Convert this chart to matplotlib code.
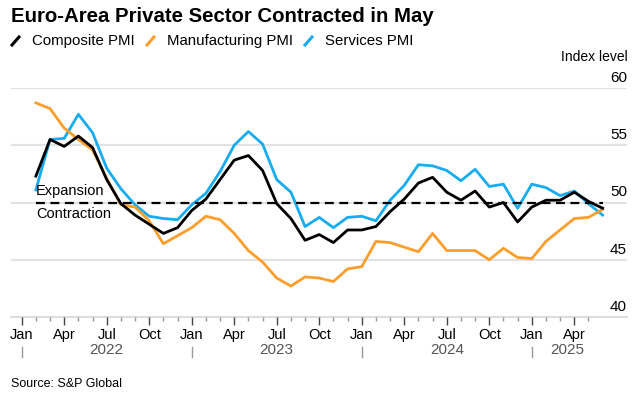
import matplotlib
matplotlib.use("Agg")
import matplotlib.pyplot as plt
import matplotlib.transforms as mtransforms
import numpy as np
from matplotlib.lines import Line2D

plt.rcParams["font.family"] = ["Liberation Sans", "DejaVu Sans"]

# monthly readings, Jan 2022 .. May 2025
composite = [52.3, 55.5, 54.9, 55.8, 54.8, 52.0, 49.9, 48.9, 48.1, 47.3, 47.8, 49.3,
             50.3, 52.0, 53.7, 54.1, 52.8, 49.9, 48.6, 46.7, 47.2, 46.5, 47.6, 47.6,
             47.9, 49.2, 50.3, 51.7, 52.2, 50.9, 50.2, 51.0, 49.6, 50.0, 48.3, 49.6,
             50.2, 50.2, 50.9, 50.1, 49.5]
manufacturing = [58.7, 58.2, 56.5, 55.5, 54.6, 52.1, 49.8, 49.6, 48.4, 46.4, 47.1, 47.8,
                 48.8, 48.5, 47.3, 45.8, 44.8, 43.4, 42.7, 43.5, 43.4, 43.1, 44.2, 44.4,
                 46.6, 46.5, 46.1, 45.7, 47.3, 45.8, 45.8, 45.8, 45.0, 46.0, 45.2, 45.1,
                 46.6, 47.6, 48.6, 48.7, 49.4]
services = [51.1, 55.5, 55.6, 57.7, 56.1, 53.0, 51.2, 49.8, 48.8, 48.6, 48.5, 49.8,
            50.8, 52.7, 55.0, 56.2, 55.1, 52.0, 50.9, 47.9, 48.7, 47.8, 48.7, 48.8,
            48.4, 50.2, 51.5, 53.3, 53.2, 52.8, 51.9, 52.9, 51.4, 51.6, 49.5, 51.6,
            51.3, 50.6, 51.0, 49.9, 48.9]
series_names = ["Composite PMI", "Manufacturing PMI", "Services PMI"]
series_colors = ["#000000", "#fb9e2c", "#17acef"]
month_labels = ["Jan", "Apr", "Jul", "Oct"]
years = ["2022", "2023", "2024", "2025"]
y_ticks = [40, 45, 50, 55, 60]

W, H = 639, 398
fig = plt.figure(figsize=(W / 100, H / 100), dpi=100)
# axes box in pixel terms: x 11..627, y 88..317
ax = fig.add_axes([11 / W, (H - 317) / H, (627 - 11) / W, (317 - 88) / H])

# month k (0 = Jan 2022) is a tick; each month's value is plotted at the end of it
x = np.arange(1, len(composite) + 1)
ax.plot(x, services, color=series_colors[2], lw=2, zorder=3)
ax.plot(x, manufacturing, color=series_colors[1], lw=2, zorder=3)
ax.plot(x, composite, color=series_colors[0], lw=2, zorder=4)
ax.plot([x[0], x[-1]], [50, 50], color="black", lw=1.6, ls=(0, (4, 2.5)), zorder=5)

ax.text(x[0], 50.4, "Expansion", fontsize=10.5, ha="left", va="bottom", zorder=6)
ax.text(x[0], 49.6, "Contraction", fontsize=10.5, ha="left", va="top", zorder=6)

ax.set_xlim(-0.755, 42.72)
ax.set_ylim(40, 60)
for sp in ["top", "right", "left"]:
    ax.spines[sp].set_visible(False)
ax.spines["bottom"].set_color("#dddddd")
ax.spines["bottom"].set_linewidth(1.5)
ax.spines["bottom"].set_zorder(1)

for v in y_ticks[1:]:
    ax.axhline(v, color="#e2e2e2", lw=1.5, zorder=1)
ax.yaxis.set_visible(False)

# value labels sit just above their gridline, right-aligned at the plot edge
lift = mtransforms.offset_copy(ax.get_yaxis_transform(), fig=fig, y=3, units="dots")
for v in y_ticks:
    ax.text(1.0, v, str(v), transform=lift, fontsize=11, ha="right", va="bottom")

major = np.arange(0, 40, 3)
minor = np.arange(0, 41)
ax.set_xticks(major)
ax.set_xticklabels([month_labels[(k // 3) % 4] for k in major], fontsize=10.5)
ax.set_xticks(minor, minor=True)
ax.tick_params(axis="x", which="major", length=6, width=1, color="#444444", pad=2)
ax.tick_params(axis="x", which="minor", length=3, width=1, color="#999999")

# year row with separators
xt = ax.get_xaxis_transform()
for i, yr in enumerate(years):
    start = 12 * i
    end = min(12 * (i + 1), 41)
    ax.text((start + end) / 2, -0.145, yr, transform=xt,
            fontsize=11, color="#555555", ha="center", va="center")
    ax.plot([start, start], [-0.13, -0.175], transform=xt,
            color="#999999", lw=1, clip_on=False)

fig.text(11 / W, 1 - 17 / H, "Euro-Area Private Sector Contracted in May", fontsize=14.7,
         fontweight="bold", ha="left", va="center")

# legend row
lx = [12, 147, 305]
for xs, name, c in zip(lx, series_names, series_colors):
    fig.add_artist(Line2D([xs / W, (xs + 7) / W], [1 - 45 / H, 1 - 37 / H], color=c, lw=2.2))
    fig.text((xs + 20) / W, 1 - 41 / H, name, fontsize=10.8, ha="left", va="center")

fig.text(628 / W, 1 - 57 / H, "Index level", fontsize=10, ha="right", va="center")
fig.text(11 / W, 1 - 384 / H, "Source: S&P Global", fontsize=9, ha="left", va="center")

fig.savefig("out.png", dpi=100)
